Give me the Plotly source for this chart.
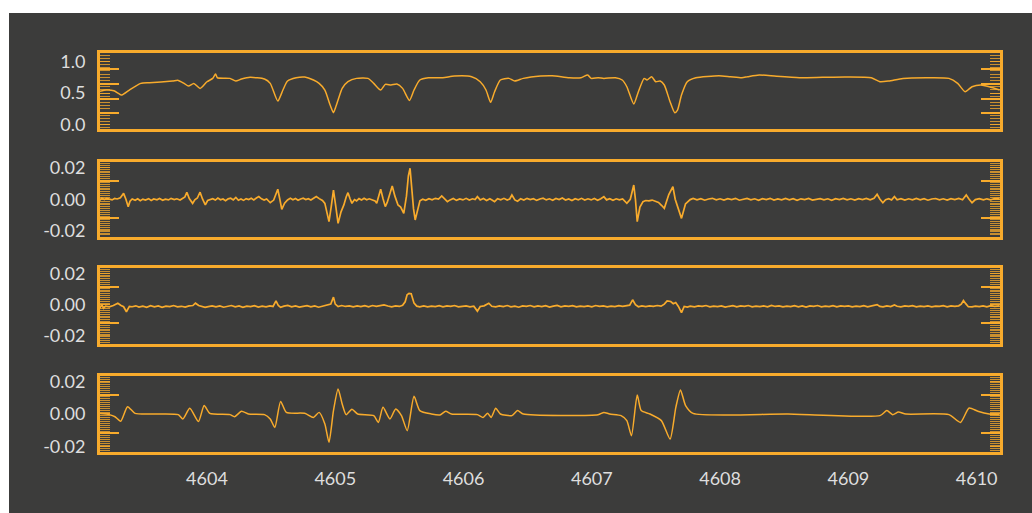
import plotly.graph_objects as go

# ---------------- data ----------------
# Panel 1: normalised spectrum
p1_points = [
    (4603.148, 0.521), (4603.215, 0.548), (4603.274, 0.537), (4603.336, 0.469), (4603.395, 0.548),
    (4603.484, 0.653), (4603.552, 0.664), (4603.731, 0.690), (4603.776, 0.700), (4603.821, 0.653),
    (4603.856, 0.611), (4603.897, 0.653), (4603.946, 0.574), (4604.000, 0.679), (4604.045, 0.732),
    (4604.067, 0.800), (4604.081, 0.742), (4604.179, 0.732), (4604.224, 0.690), (4604.269, 0.721),
    (4604.336, 0.748), (4604.448, 0.721), (4604.493, 0.653), (4604.552, 0.374), (4604.592, 0.548),
    (4604.628, 0.690), (4604.695, 0.742), (4604.762, 0.753), (4604.830, 0.706), (4604.874, 0.653),
    (4604.919, 0.548), (4604.960, 0.311), (4604.986, 0.190), (4605.000, 0.258), (4605.022, 0.390),
    (4605.054, 0.574), (4605.099, 0.679), (4605.166, 0.732), (4605.255, 0.732), (4605.300, 0.653),
    (4605.354, 0.548), (4605.390, 0.637), (4605.435, 0.627), (4605.480, 0.642), (4605.525, 0.574),
    (4605.578, 0.384), (4605.614, 0.548), (4605.659, 0.706), (4605.726, 0.742), (4605.838, 0.742),
    (4605.928, 0.769), (4606.063, 0.758), (4606.130, 0.679), (4606.175, 0.548), (4606.211, 0.353),
    (4606.242, 0.521), (4606.287, 0.706), (4606.354, 0.732), (4606.399, 0.690), (4606.466, 0.732),
    (4606.601, 0.769), (4606.690, 0.774), (4606.825, 0.742), (4606.915, 0.742), (4606.968, 0.785),
    (4606.995, 0.732), (4607.049, 0.742), (4607.094, 0.732), (4607.184, 0.742), (4607.237, 0.706),
    (4607.273, 0.600), (4607.327, 0.327), (4607.363, 0.521), (4607.408, 0.732), (4607.430, 0.706),
    (4607.466, 0.758), (4607.498, 0.679), (4607.533, 0.690), (4607.565, 0.627), (4607.610, 0.363),
    (4607.646, 0.190), (4607.668, 0.232), (4607.699, 0.469), (4607.744, 0.679), (4607.811, 0.742),
    (4607.991, 0.774), (4608.080, 0.758), (4608.170, 0.742), (4608.215, 0.758), (4608.305, 0.785),
    (4608.439, 0.764), (4608.619, 0.742), (4608.798, 0.748), (4608.977, 0.753), (4609.179, 0.742),
    (4609.246, 0.679), (4609.314, 0.690), (4609.426, 0.732), (4609.605, 0.742), (4609.784, 0.732),
    (4609.852, 0.653), (4609.910, 0.521), (4609.964, 0.600), (4610.031, 0.627), (4610.098, 0.600),
    (4610.179, 0.548),
]

# Panel 2: residual (noisy)
p2_points = [
    (4603.148, 0.0004), (4603.165, -0.0006), (4603.180, 0.0008), (4603.200, -0.0002), (4603.218, 0.0006),
    (4603.238, 0.0003), (4603.260, -0.0004), (4603.280, 0.0005), (4603.300, 0.0002), (4603.325, 0.0010),
    (4603.350, 0.0038), (4603.368, 0.0000), (4603.386, -0.0047), (4603.400, -0.0012), (4603.417, 0.0002),
    (4603.440, -0.0006), (4603.460, 0.0003), (4603.480, -0.0009), (4603.500, 0.0001), (4603.520, -0.0005),
    (4603.545, 0.0004), (4603.565, -0.0008), (4603.585, 0.0002), (4603.610, -0.0003), (4603.630, 0.0005),
    (4603.655, -0.0006), (4603.675, 0.0001), (4603.700, -0.0004), (4603.720, 0.0006), (4603.745, -0.0002),
    (4603.765, 0.0003), (4603.790, -0.0005), (4603.810, 0.0004), (4603.828, 0.0015), (4603.843, 0.0045),
    (4603.862, 0.0005), (4603.888, -0.0026), (4603.905, -0.0003), (4603.925, 0.0008), (4603.946, 0.0045),
    (4603.965, 0.0002), (4603.987, -0.0036), (4604.005, -0.0008), (4604.022, -0.0002), (4604.045, 0.0004),
    (4604.065, -0.0005), (4604.085, 0.0008), (4604.105, -0.0003), (4604.125, 0.0002), (4604.145, -0.0009),
    (4604.165, 0.0003), (4604.185, 0.0007), (4604.205, -0.0004), (4604.225, 0.0012), (4604.245, -0.0006),
    (4604.265, 0.0002), (4604.285, -0.0007), (4604.305, 0.0004), (4604.325, -0.0002), (4604.345, 0.0006),
    (4604.365, -0.0004), (4604.385, 0.0008), (4604.404, 0.0017), (4604.425, 0.0003), (4604.445, -0.0005),
    (4604.465, 0.0002), (4604.480, -0.0010), (4604.493, -0.0022), (4604.520, -0.0005), (4604.552, 0.0064),
    (4604.568, 0.0000), (4604.583, -0.0064), (4604.605, -0.0025), (4604.628, -0.0004), (4604.650, 0.0006),
    (4604.670, -0.0003), (4604.690, 0.0005), (4604.710, -0.0006), (4604.730, 0.0002), (4604.750, 0.0007),
    (4604.770, -0.0002), (4604.790, 0.0004), (4604.810, -0.0005), (4604.830, 0.0003), (4604.852, 0.0017),
    (4604.875, 0.0004), (4604.900, -0.0008), (4604.919, -0.0026), (4604.935, -0.0080), (4604.951, -0.0143),
    (4604.968, -0.0050), (4604.986, 0.0059), (4605.004, -0.0045), (4605.022, -0.0154), (4605.045, -0.0080),
    (4605.067, -0.0036), (4605.085, 0.0015), (4605.099, 0.0042), (4605.115, 0.0005), (4605.130, -0.0026),
    (4605.150, -0.0002), (4605.166, -0.0010), (4605.185, 0.0004), (4605.205, -0.0005), (4605.225, 0.0006),
    (4605.245, -0.0003), (4605.265, 0.0003), (4605.291, -0.0004), (4605.310, -0.0010), (4605.323, -0.0026),
    (4605.340, 0.0020), (4605.354, 0.0064), (4605.372, 0.0005), (4605.390, -0.0047), (4605.405, -0.0020),
    (4605.425, 0.0040), (4605.444, 0.0085), (4605.465, 0.0020), (4605.489, -0.0036), (4605.510, -0.0050),
    (4605.534, -0.0090), (4605.555, 0.0020), (4605.570, 0.0150), (4605.583, 0.0198), (4605.595, 0.0080),
    (4605.610, -0.0060), (4605.623, -0.0132), (4605.640, -0.0070), (4605.660, -0.0010), (4605.682, 0.0000),
    (4605.705, -0.0006), (4605.730, 0.0004), (4605.755, -0.0003), (4605.780, 0.0006), (4605.805, 0.0001),
    (4605.830, 0.0021), (4605.850, 0.0003), (4605.874, -0.0015), (4605.895, -0.0004), (4605.920, 0.0005),
    (4605.945, -0.0007), (4605.970, 0.0002), (4605.995, -0.0004), (4606.020, 0.0006), (4606.045, -0.0005),
    (4606.070, 0.0003), (4606.090, -0.0002), (4606.108, 0.0017), (4606.130, -0.0004), (4606.155, 0.0005),
    (4606.180, -0.0008), (4606.205, 0.0003), (4606.225, -0.0006), (4606.242, -0.0015), (4606.265, 0.0004),
    (4606.290, -0.0003), (4606.315, 0.0006), (4606.340, -0.0005), (4606.360, 0.0002), (4606.377, 0.0027),
    (4606.400, -0.0004), (4606.421, -0.0012), (4606.445, 0.0003), (4606.470, -0.0005), (4606.495, 0.0006),
    (4606.520, -0.0002), (4606.545, 0.0004), (4606.570, -0.0007), (4606.595, 0.0002), (4606.620, 0.0007),
    (4606.645, -0.0004), (4606.670, 0.0003), (4606.695, -0.0006), (4606.720, 0.0005), (4606.745, -0.0002),
    (4606.770, 0.0008), (4606.795, -0.0005), (4606.820, 0.0002), (4606.845, -0.0008), (4606.870, 0.0004),
    (4606.895, -0.0003), (4606.920, 0.0006), (4606.945, -0.0005), (4606.970, 0.0003), (4606.995, -0.0004),
    (4607.020, 0.0005), (4607.045, -0.0006), (4607.070, 0.0003), (4607.094, 0.0017), (4607.115, -0.0004),
    (4607.140, 0.0004), (4607.165, -0.0006), (4607.190, 0.0003), (4607.215, -0.0004), (4607.240, 0.0002),
    (4607.258, -0.0010), (4607.273, -0.0026), (4607.300, 0.0000), (4607.327, 0.0091), (4607.340, 0.0000),
    (4607.354, -0.0143), (4607.375, -0.0050), (4607.399, -0.0015), (4607.420, -0.0008), (4607.445, -0.0010),
    (4607.470, -0.0005), (4607.495, -0.0012), (4607.520, -0.0020), (4607.545, -0.0040), (4607.565, -0.0058),
    (4607.600, 0.0030), (4607.632, 0.0081), (4607.650, 0.0000), (4607.668, -0.0047), (4607.699, -0.0122),
    (4607.730, -0.0030), (4607.767, -0.0002), (4607.790, 0.0005), (4607.820, -0.0003), (4607.850, 0.0004),
    (4607.880, -0.0006), (4607.910, 0.0002), (4607.940, 0.0006), (4607.970, -0.0004), (4608.000, 0.0003),
    (4608.030, -0.0005), (4608.060, 0.0004), (4608.090, -0.0002), (4608.120, 0.0006), (4608.150, -0.0006),
    (4608.180, 0.0002), (4608.210, 0.0005), (4608.240, -0.0004), (4608.270, 0.0003), (4608.300, -0.0006),
    (4608.330, 0.0004), (4608.360, -0.0002), (4608.390, 0.0006), (4608.420, -0.0005), (4608.450, 0.0002),
    (4608.480, -0.0004), (4608.510, 0.0005), (4608.540, -0.0003), (4608.570, 0.0004), (4608.600, -0.0006),
    (4608.630, 0.0003), (4608.660, -0.0002), (4608.690, 0.0005), (4608.720, -0.0005), (4608.750, 0.0002),
    (4608.780, 0.0004), (4608.810, -0.0004), (4608.840, 0.0003), (4608.870, -0.0006), (4608.900, 0.0004),
    (4608.930, -0.0002), (4608.960, 0.0005), (4608.990, -0.0004), (4609.020, 0.0003), (4609.050, -0.0005),
    (4609.080, 0.0004), (4609.110, -0.0002), (4609.140, 0.0005), (4609.170, -0.0004), (4609.200, 0.0006),
    (4609.224, 0.0032), (4609.245, 0.0002), (4609.269, -0.0022), (4609.290, -0.0003), (4609.315, 0.0004),
    (4609.337, -0.0004), (4609.359, 0.0017), (4609.380, -0.0003), (4609.410, 0.0004), (4609.440, -0.0005),
    (4609.470, 0.0003), (4609.500, -0.0004), (4609.530, 0.0005), (4609.560, -0.0003), (4609.590, 0.0004),
    (4609.620, -0.0006), (4609.650, 0.0002), (4609.680, 0.0005), (4609.710, -0.0004), (4609.740, 0.0003),
    (4609.770, -0.0005), (4609.800, 0.0004), (4609.830, -0.0002), (4609.860, 0.0005), (4609.890, -0.0003),
    (4609.919, 0.0027), (4609.940, 0.0002), (4609.964, -0.0022), (4609.990, -0.0002), (4610.020, 0.0004),
    (4610.053, -0.0004), (4610.080, 0.0003), (4610.110, -0.0003), (4610.140, 0.0005), (4610.179, 0.0006),
]

# Panel 3: residual (mostly noise)
p3_points = [
    (4603.148, -0.0005), (4603.165, -0.0020), (4603.180, 0.0002), (4603.193, -0.0022), (4603.210, -0.0008),
    (4603.238, -0.0012), (4603.270, -0.0004), (4603.305, 0.0011), (4603.330, -0.0004), (4603.350, -0.0012),
    (4603.372, -0.0044), (4603.395, -0.0010), (4603.417, -0.0012), (4603.445, -0.0006), (4603.470, -0.0014),
    (4603.500, -0.0008), (4603.530, -0.0015), (4603.560, -0.0005), (4603.590, -0.0012), (4603.620, -0.0007),
    (4603.650, -0.0016), (4603.680, -0.0008), (4603.710, -0.0011), (4603.740, -0.0004), (4603.770, -0.0013),
    (4603.800, -0.0009), (4603.830, -0.0014), (4603.860, -0.0006), (4603.890, -0.0004), (4603.910, 0.0011),
    (4603.935, -0.0004), (4603.960, -0.0010), (4603.985, -0.0016), (4604.010, -0.0011), (4604.040, -0.0007),
    (4604.070, -0.0013), (4604.100, -0.0006), (4604.130, -0.0015), (4604.160, -0.0009), (4604.190, -0.0004),
    (4604.220, -0.0012), (4604.250, -0.0007), (4604.280, -0.0016), (4604.310, -0.0008), (4604.340, -0.0011),
    (4604.370, -0.0005), (4604.400, -0.0014), (4604.430, -0.0008), (4604.460, -0.0012), (4604.490, -0.0006),
    (4604.515, -0.0010), (4604.538, 0.0026), (4604.556, -0.0004), (4604.574, -0.0016), (4604.600, -0.0008),
    (4604.630, -0.0003), (4604.660, -0.0012), (4604.690, -0.0006), (4604.720, -0.0014), (4604.750, -0.0008),
    (4604.780, -0.0005), (4604.810, -0.0013), (4604.840, -0.0007), (4604.870, -0.0015), (4604.900, -0.0009),
    (4604.925, -0.0004), (4604.942, -0.0003), (4604.965, 0.0006), (4604.986, 0.0050), (4605.000, 0.0005),
    (4605.022, -0.0011), (4605.050, -0.0004), (4605.080, -0.0010), (4605.110, -0.0006), (4605.140, -0.0013),
    (4605.170, -0.0007), (4605.200, -0.0011), (4605.230, -0.0005), (4605.260, -0.0012), (4605.290, -0.0004),
    (4605.320, -0.0009), (4605.350, -0.0005), (4605.380, 0.0000), (4605.410, -0.0007), (4605.440, -0.0012),
    (4605.470, -0.0006), (4605.500, -0.0010), (4605.525, -0.0003), (4605.545, 0.0020), (4605.560, 0.0065),
    (4605.575, 0.0074), (4605.592, 0.0072), (4605.605, 0.0030), (4605.614, 0.0011), (4605.635, -0.0008),
    (4605.659, -0.0012), (4605.690, -0.0006), (4605.720, -0.0013), (4605.750, -0.0008), (4605.780, -0.0011),
    (4605.810, -0.0005), (4605.840, -0.0012), (4605.870, -0.0007), (4605.900, -0.0010), (4605.930, -0.0004),
    (4605.960, -0.0013), (4605.990, -0.0009), (4606.020, -0.0006), (4606.050, -0.0012), (4606.080, -0.0008),
    (4606.108, -0.0040), (4606.130, -0.0010), (4606.160, -0.0006), (4606.197, 0.0011), (4606.220, -0.0009),
    (4606.250, -0.0013), (4606.280, -0.0006), (4606.310, -0.0011), (4606.340, -0.0004), (4606.370, -0.0012),
    (4606.400, -0.0008), (4606.430, -0.0015), (4606.460, -0.0006), (4606.490, -0.0010), (4606.520, -0.0004),
    (4606.550, -0.0013), (4606.580, -0.0007), (4606.610, -0.0011), (4606.640, -0.0005), (4606.670, -0.0014),
    (4606.700, -0.0008), (4606.730, -0.0003), (4606.760, -0.0012), (4606.790, -0.0007), (4606.820, -0.0010),
    (4606.850, -0.0005), (4606.880, -0.0013), (4606.910, -0.0008), (4606.940, -0.0011), (4606.970, -0.0006),
    (4607.000, -0.0012), (4607.030, -0.0004), (4607.060, -0.0010), (4607.090, -0.0007), (4607.120, -0.0013),
    (4607.150, -0.0008), (4607.180, -0.0011), (4607.210, -0.0005), (4607.240, -0.0010), (4607.270, -0.0006),
    (4607.295, -0.0002), (4607.318, 0.0033), (4607.340, 0.0002), (4607.363, -0.0012), (4607.390, -0.0006),
    (4607.420, -0.0011), (4607.450, -0.0007), (4607.480, -0.0010), (4607.510, -0.0004), (4607.540, -0.0008),
    (4607.565, 0.0005), (4607.587, 0.0026), (4607.615, 0.0022), (4607.635, 0.0008), (4607.654, 0.0015),
    (4607.675, -0.0010), (4607.699, -0.0050), (4607.720, -0.0010), (4607.745, -0.0014), (4607.767, -0.0008),
    (4607.800, -0.0012), (4607.830, -0.0006), (4607.860, -0.0010), (4607.890, -0.0004), (4607.920, -0.0013),
    (4607.950, -0.0008), (4607.980, -0.0011), (4608.010, -0.0006), (4608.040, -0.0014), (4608.070, -0.0009),
    (4608.100, -0.0005), (4608.130, -0.0012), (4608.160, -0.0007), (4608.190, -0.0010), (4608.220, -0.0004),
    (4608.250, -0.0013), (4608.280, -0.0008), (4608.310, -0.0011), (4608.340, -0.0006), (4608.370, -0.0012),
    (4608.400, -0.0003), (4608.430, -0.0010), (4608.460, -0.0007), (4608.490, -0.0013), (4608.520, -0.0008),
    (4608.550, -0.0011), (4608.580, -0.0005), (4608.610, -0.0012), (4608.640, -0.0007), (4608.670, -0.0014),
    (4608.700, -0.0006), (4608.730, -0.0010), (4608.760, -0.0004), (4608.790, -0.0012), (4608.820, -0.0008),
    (4608.850, -0.0011), (4608.880, -0.0005), (4608.910, -0.0013), (4608.940, -0.0007), (4608.970, -0.0010),
    (4609.000, -0.0006), (4609.030, -0.0012), (4609.060, -0.0008), (4609.090, -0.0011), (4609.120, -0.0005),
    (4609.150, -0.0013), (4609.180, -0.0008), (4609.205, -0.0004), (4609.224, 0.0002), (4609.245, -0.0010),
    (4609.270, -0.0013), (4609.300, -0.0007), (4609.330, -0.0011), (4609.359, 0.0000), (4609.380, -0.0009),
    (4609.410, -0.0013), (4609.440, -0.0007), (4609.470, -0.0010), (4609.500, -0.0005), (4609.530, -0.0012),
    (4609.560, -0.0008), (4609.590, -0.0011), (4609.620, -0.0006), (4609.650, -0.0013), (4609.680, -0.0008),
    (4609.710, -0.0010), (4609.740, -0.0005), (4609.770, -0.0012), (4609.800, -0.0007), (4609.830, -0.0010),
    (4609.860, -0.0006), (4609.880, 0.0005), (4609.897, 0.0028), (4609.915, 0.0008), (4609.935, -0.0012),
    (4609.964, -0.0013), (4609.990, -0.0008), (4610.020, -0.0011), (4610.050, -0.0006), (4610.080, -0.0012),
    (4610.110, -0.0005), (4610.140, -0.0010), (4610.179, -0.0006),
]

# Panel 4: model derivative (smooth)
p4_points = [
    (4603.148, 0.0004), (4603.238, -0.0004), (4603.283, -0.0017), (4603.327, -0.0045), (4603.381, 0.0045),
    (4603.439, 0.0004), (4603.596, 0.0000), (4603.776, -0.0004), (4603.812, -0.0031), (4603.866, 0.0035),
    (4603.933, -0.0047), (4603.978, 0.0052), (4604.022, 0.0004), (4604.179, -0.0004), (4604.215, -0.0017),
    (4604.269, 0.0017), (4604.323, 0.0000), (4604.448, -0.0004), (4604.493, -0.0031), (4604.529, -0.0083),
    (4604.574, 0.0078), (4604.619, 0.0010), (4604.762, 0.0004), (4604.830, -0.0021), (4604.874, 0.0010),
    (4604.919, -0.0062), (4604.951, -0.0175), (4604.986, 0.0021), (4605.022, 0.0155), (4605.054, 0.0062),
    (4605.085, -0.0004), (4605.130, 0.0029), (4605.175, 0.0000), (4605.300, -0.0010), (4605.336, -0.0052),
    (4605.372, 0.0041), (4605.426, -0.0031), (4605.471, 0.0031), (4605.516, -0.0010), (4605.561, -0.0103),
    (4605.614, 0.0109), (4605.659, 0.0021), (4605.749, 0.0000), (4605.816, -0.0006), (4605.861, 0.0017),
    (4605.906, 0.0000), (4606.108, -0.0004), (4606.152, -0.0021), (4606.188, 0.0004), (4606.215, -0.0021),
    (4606.251, 0.0035), (4606.287, 0.0000), (4606.377, -0.0010), (4606.421, 0.0021), (4606.466, 0.0000),
    (4607.049, -0.0004), (4607.094, 0.0010), (4607.139, 0.0000), (4607.228, -0.0010), (4607.273, -0.0041),
    (4607.309, -0.0134), (4607.354, 0.0118), (4607.385, 0.0021), (4607.453, 0.0000), (4607.542, -0.0041),
    (4607.610, -0.0155), (4607.655, 0.0041), (4607.691, 0.0149), (4607.731, 0.0052), (4607.789, 0.0004),
    (4608.529, 0.0000), (4609.246, -0.0010), (4609.300, 0.0021), (4609.345, -0.0004), (4609.390, 0.0012),
    (4609.448, 0.0000), (4609.784, -0.0004), (4609.874, -0.0052), (4609.941, 0.0037), (4610.009, 0.0017),
    (4610.098, 0.0000), (4610.179, -0.0004),
]

x_range = [4603.166, 4610.182]
x_tickvals = [4604, 4605, 4606, 4607, 4608, 4609, 4610]
y_ranges = [[-0.068, 1.133], [-0.0241, 0.0238], [-0.0252, 0.0238], [-0.0235, 0.0235]]
y_tickvals = [[0.0, 0.5, 1.0], [-0.02, 0.0, 0.02], [-0.02, 0.0, 0.02], [-0.02, 0.0, 0.02]]
y_ticktext = [["0.0", "0.5", "1.0"], ["-0.02", "0.00", "0.02"], ["-0.02", "0.00", "0.02"], ["-0.02", "0.00", "0.02"]]
long_tickvals = [[0.178, 0.41, 0.648, 0.88], [-0.0117, 0.0117], [-0.0117, 0.0117], [-0.0117, 0.0117]]
minor_dtick = [0.05, 0.0012, 0.0012, 0.0012]

# ---------------- styling ----------------
ORANGE = '#f8ab2c'
TICKC = 'rgba(248,171,44,0.75)'
BG = '#3c3c3b'
TXT = '#dedede'
FONT = 'Lato'
FS = 18
W, H = 1032, 513
ML, MR, MT, MB = 100, 32, 53, 61
domains = [[0.8095, 1.0], [0.5388, 0.7268], [0.2707, 0.4612], [0.0, 0.1905]]

series = [p1_points, p2_points, p3_points, p4_points]
shapes_kind = ['spline', 'linear', 'linear', 'spline']
widths = [1.5, 1.7, 1.7, 1.5]

fig = go.Figure()
for i, pts in enumerate(series):
    n = i + 1
    xs = [p[0] for p in pts]
    ys = [p[1] for p in pts]
    fig.add_trace(go.Scatter(
        x=xs, y=ys, mode='lines',
        line=dict(color=ORANGE, width=widths[i], shape=shapes_kind[i], smoothing=0.6),
        xaxis='x' if n == 1 else f'x{n}', yaxis='y' if n == 1 else f'y{n}',
        showlegend=False, hoverinfo='skip'))
    # dummy trace for the overlay axis carrying the long ticks
    fig.add_trace(go.Scatter(
        x=[None], y=[None], mode='lines', showlegend=False, hoverinfo='skip',
        xaxis='x' if n == 1 else f'x{n}', yaxis=f'y{n + 4}'))

layout = dict(
    width=W, height=H,
    margin=dict(l=ML, r=MR, t=MT, b=MB, pad=0),
    paper_bgcolor='white', plot_bgcolor=BG,
    font=dict(family=FONT, size=FS, color=TXT),
    showlegend=False,
)

pw = W - ML - MR
ph = H - MT - MB
layout['shapes'] = [dict(
    type='rect', xref='paper', yref='paper', layer='below',
    x0=(9 - ML) / pw, x1=(W - ML) / pw,
    y0=-MB / ph, y1=(H - MB - 13) / ph,
    fillcolor=BG, line=dict(width=0))]

for i in range(4):
    n = i + 1
    xk = 'xaxis' if n == 1 else f'xaxis{n}'
    yk = 'yaxis' if n == 1 else f'yaxis{n}'
    layout[xk] = dict(
        domain=[0, 1], anchor='y' if n == 1 else f'y{n}',
        range=x_range, showgrid=False, zeroline=False,
        showline=True, linecolor=ORANGE, linewidth=3, mirror=True,
        ticks='',
        tickmode='array', tickvals=x_tickvals,
        ticktext=[str(v) for v in x_tickvals],
        showticklabels=(n == 4), ticklabelstandoff=8,
        tickfont=dict(family=FONT, size=FS, color=TXT))
    layout[yk] = dict(
        domain=domains[i], anchor='x' if n == 1 else f'x{n}',
        range=y_ranges[i], showgrid=False, zeroline=False,
        showline=True, linecolor=ORANGE, linewidth=3, mirror='ticks',
        ticks='inside', ticklen=10, tickwidth=1, tickcolor=TICKC,
        tickmode='array', tickvals=y_tickvals[i], ticktext=y_ticktext[i],
        ticklabelstandoff=8,
        tickfont=dict(family=FONT, size=FS, color=TXT),
        minor=dict(tickmode='linear', tick0=0, dtick=minor_dtick[i],
                   ticks='inside', ticklen=10, tickwidth=1, tickcolor=TICKC,
                   showgrid=False))
    layout[f'yaxis{n + 4}'] = dict(
        overlaying='y' if n == 1 else f'y{n}', anchor='x' if n == 1 else f'x{n}',
        side='left', range=y_ranges[i], showgrid=False, zeroline=False,
        showline=False, mirror='ticks',
        ticks='inside', ticklen=19, tickwidth=1.5, tickcolor=ORANGE,
        tickmode='array', tickvals=long_tickvals[i], showticklabels=False)

fig.update_layout(**layout)
fig.write_html('out.html')
